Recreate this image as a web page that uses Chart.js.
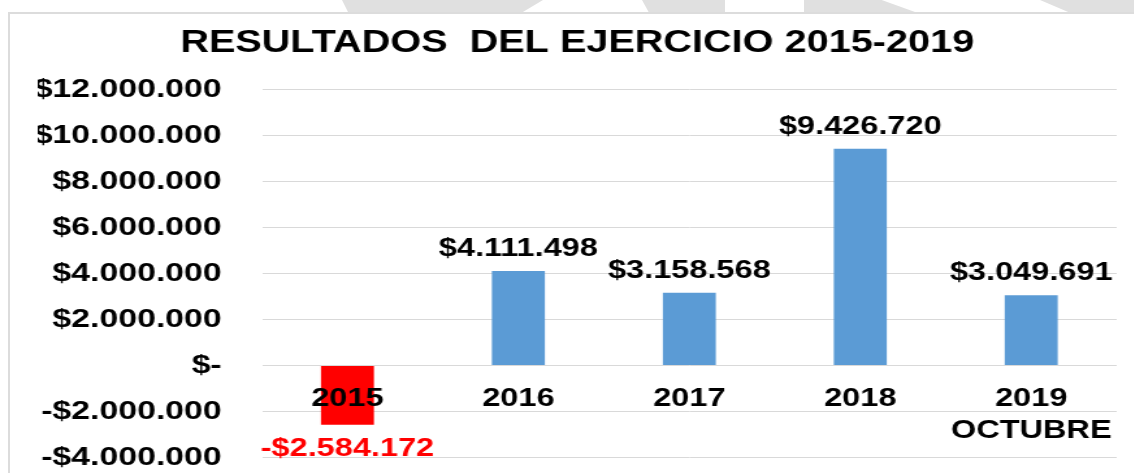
<!DOCTYPE html>
<html lang="es">
<head>
    <meta charset="UTF-8">
    <title>Resultados del ejercicio 2015-2019</title>
    <script src="https://cdn.jsdelivr.net/npm/chart.js"></script>
    <style>
        body { margin: 0; background: #fff; width: 1134px; height: 473px; overflow: hidden; position: relative; }
        .shape { position: absolute; top: 0; height: 12px; background: #e0e0e0; }
        #frame { position: absolute; left: 8px; top: 12px; right: 0; bottom: 0; border-left: 2px solid #dcdcdc; border-top: 2px solid #dcdcdc; }
        #wrap { position: absolute; left: 0; top: 0; width: 872px; height: 473px; transform: scaleX(1.3); transform-origin: 0 0; }
    </style>
</head>
<body>
    <div class="shape" style="left:342px;width:201px;clip-path:polygon(0 0,100% 0,90% 100%,3% 100%)"></div>
    <div class="shape" style="left:642px;width:83px;clip-path:polygon(0 0,100% 0,100% 100%,8% 100%)"></div>
    <div class="shape" style="left:804px;width:111px;clip-path:polygon(0 0,70% 0,100% 100%,0 100%)"></div>
    <div class="shape" style="left:1040px;width:94px;clip-path:polygon(0 0,100% 0,100% 100%,30% 100%)"></div>
    <div id="frame"></div>
    <div id="wrap">
        <canvas id="resultsChart" width="872" height="473"></canvas>
    </div>
    <script>
        // values
        var categories = ['2015', '2016', '2017', '2018', ['2019', 'OCTUBRE']];
        var results = [-2584172, 4111498, 3158568, 9426720, 3049691];
        var yTicks = [-4000000, -2000000, 0, 2000000, 4000000, 6000000, 8000000, 10000000, 12000000];

        var FONT = '"Liberation Sans", Arial, sans-serif';

        function money(v) {
            var s = Math.abs(Math.round(v)).toString().replace(/\B(?=(\d{3})+(?!\d))/g, '.');
            return (v < 0 ? '-' : '') + '$' + s;
        }

        // labels above / below every bar
        var barLabels = {
            id: 'barLabels',
            afterDatasetsDraw: function(chart) {
                var c = chart.ctx;
                var meta = chart.getDatasetMeta(0);
                c.save();
                c.font = 'bold 25px ' + FONT;
                c.textAlign = 'center';
                c.textBaseline = 'alphabetic';
                meta.data.forEach(function(bar, i) {
                    var v = results[i];
                    if (v < 0) {
                        c.fillStyle = '#ff0000';
                        c.fillText(money(v), bar.x, bar.y + 31);
                    } else {
                        c.fillStyle = '#000';
                        c.fillText(money(v), bar.x, bar.y - 15);
                    }
                });
                c.restore();
            }
        };

        var ctx = document.getElementById('resultsChart').getContext('2d');
        var resultsChart = new Chart(ctx, {
            type: 'bar',
            data: {
                labels: categories,
                datasets: [{
                    label: 'Resultado',
                    data: results,
                    backgroundColor: function(c) { return c.raw < 0 ? '#ff0000' : '#5b9bd5'; },
                    barPercentage: 0.31,
                    categoryPercentage: 1
                }]
            },
            options: {
                responsive: false,
                animation: false,
                layout: { padding: { left: 29, right: 13, top: 0, bottom: 0 } },
                plugins: {
                    legend: { display: false },
                    tooltip: { enabled: false },
                    title: {
                        display: true,
                        text: 'RESULTADOS  DEL EJERCICIO 2015-2019',
                        color: '#000',
                        font: { family: FONT, size: 30.5, weight: 'bold' },
                        padding: { top: 25, bottom: 28 }
                    }
                },
                scales: {
                    x: {
                        position: { y: 0 },
                        afterFit: function(scale) { scale.height = 0; },
                        grid: { display: false },
                        border: { display: false },
                        ticks: {
                            z: 1,
                            color: '#000',
                            padding: 9,
                            maxRotation: 0,
                            font: { family: FONT, size: 25, weight: 'bold', lineHeight: 1.3 }
                        }
                    },
                    y: {
                        min: -4000000,
                        max: 12000000,
                        afterBuildTicks: function(scale) {
                            scale.ticks = yTicks.map(function(v) { return { value: v }; });
                        },
                        afterFit: function(scale) { scale.width = 172.5; },
                        // invisible tick marks keep the labels clear of the plot
                        grid: { color: '#d9d9d9', drawTicks: true, tickLength: 31, tickColor: 'rgba(0,0,0,0)' },
                        border: { display: false },
                        ticks: {
                            color: '#000',
                            padding: 0,
                            font: { family: FONT, size: 26, weight: 'bold' },
                            callback: function(v) { return v === 0 ? '$-' : money(v); }
                        }
                    }
                }
            },
            plugins: [barLabels]
        });
    </script>
</body>
</html>
